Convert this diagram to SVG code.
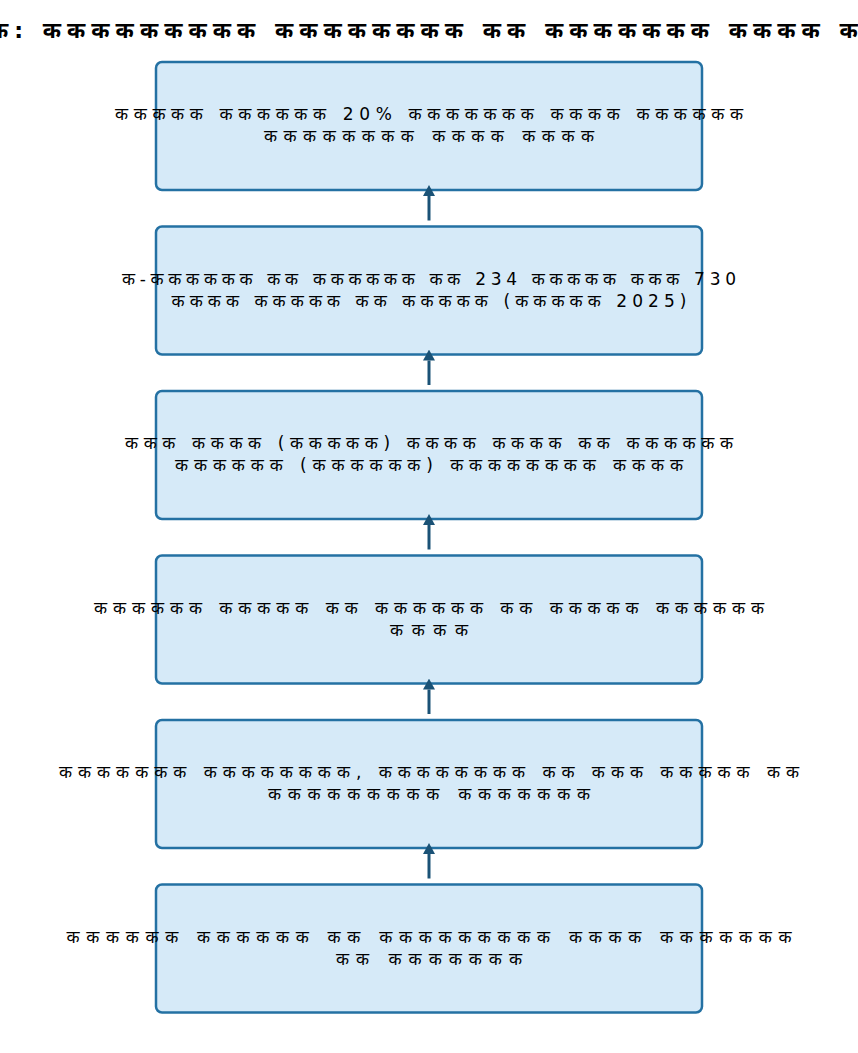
<svg xmlns="http://www.w3.org/2000/svg" width="858" height="1053" viewBox="0 0 858 1053">
<style>
.bg{fill:#ffffff}
.node rect{fill:#D6EAF8;stroke:#2471A3;stroke-width:2.5}
.node text{font-family:"DejaVu Sans","Noto Sans",sans-serif;font-size:17px;fill:#000;text-anchor:middle}
.title{font-family:"DejaVu Sans","Noto Sans",sans-serif;font-size:22px;font-weight:bold;fill:#000;text-anchor:start}
.conn line{stroke:#1A5276;stroke-width:3}
</style>
<defs>
<marker id="ah" markerUnits="userSpaceOnUse" markerWidth="11" markerHeight="12" viewBox="0 0 10 11" refX="0" refY="5.5" orient="auto">
<path d="M0,0 L10,5.5 L0,11 z" fill="#1A5276"/>
</marker>
</defs>
<rect class="bg" x="0" y="0" width="858" height="1053"/>
<text class="title" x="-10" y="38" textLength="892" lengthAdjust="spacing">क: ककककककककक कककककककक कक ककककककक कककक कक</text>
<g id="node1" class="node">
<rect x="156" y="62" width="546" height="128" rx="6"/>
<text x="429" y="120" textLength="628" lengthAdjust="spacing">ककककक कककककक 20% ककककककक कककक कककककक</text>
<text x="429" y="142" textLength="330" lengthAdjust="spacing">कककककककक कककक कककक</text>
</g>
<g id="node2" class="node">
<rect x="156" y="226.5" width="546" height="128" rx="6"/>
<text x="429" y="284.5" textLength="614" lengthAdjust="spacing">क-कककककक कक कककककक कक 234 ककककक ककक 730</text>
<text x="429" y="306.5" textLength="515" lengthAdjust="spacing">कककक ककककक कक ककककक (ककककक 2025)</text>
</g>
<g id="node3" class="node">
<rect x="156" y="391" width="546" height="128" rx="6"/>
<text x="429" y="449" textLength="608" lengthAdjust="spacing">ककक कककक (ककककक) कककक कककक कक कककककक</text>
<text x="429" y="471" textLength="508" lengthAdjust="spacing">कककककक (कककककक) कककककककक कककक</text>
</g>
<g id="node4" class="node">
<rect x="156" y="555.5" width="546" height="128" rx="6"/>
<text x="429" y="613.5" textLength="670" lengthAdjust="spacing">कककककक ककककक कक कककककक कक ककककक कककककक</text>
<text x="429" y="635.5" textLength="78" lengthAdjust="spacing">कककक</text>
</g>
<g id="node5" class="node">
<rect x="156" y="720" width="546" height="128" rx="6"/>
<text x="429" y="778" textLength="740" lengthAdjust="spacing">ककककककक कककककककक, कककककककक कक ककक ककककक कक</text>
<text x="429" y="800" textLength="322" lengthAdjust="spacing">ककककककककक ककककककक</text>
</g>
<g id="node6" class="node">
<rect x="156" y="884.5" width="546" height="128" rx="6"/>
<text x="429" y="942.5" textLength="725" lengthAdjust="spacing">कककककक कककककक कक ककककककककक कककक ककककककक</text>
<text x="429" y="964.5" textLength="186" lengthAdjust="spacing">कक ककककककक</text>
</g>
<g id="connectors" class="conn">
<line x1="429" y1="220.5" x2="429" y2="196" marker-end="url(#ah)"/>
<line x1="429" y1="385" x2="429" y2="360.5" marker-end="url(#ah)"/>
<line x1="429" y1="549.5" x2="429" y2="525" marker-end="url(#ah)"/>
<line x1="429" y1="714" x2="429" y2="689.5" marker-end="url(#ah)"/>
<line x1="429" y1="878.5" x2="429" y2="854" marker-end="url(#ah)"/>
</g>
</svg>
